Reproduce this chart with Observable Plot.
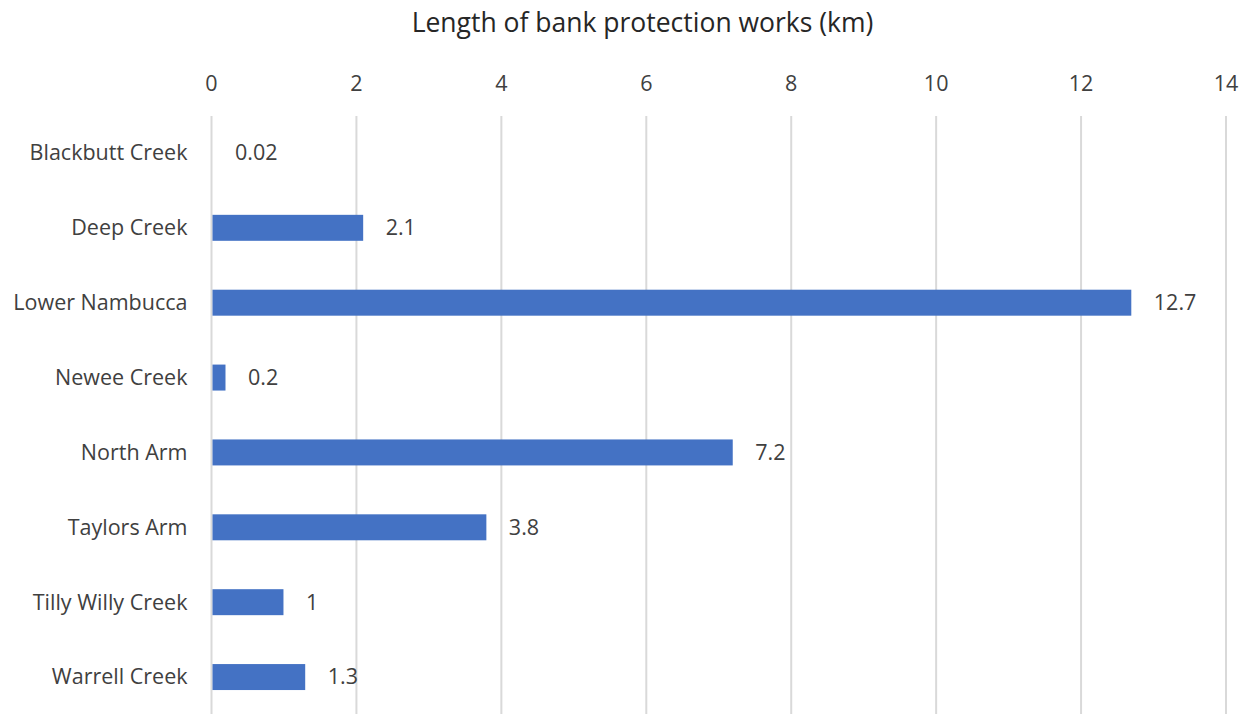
<!DOCTYPE html>
<html>
<head>
<meta charset="utf-8">
<script src="https://cdn.jsdelivr.net/npm/d3@7"></script>
<script src="https://cdn.jsdelivr.net/npm/@observablehq/plot@0.6"></script>
<style>
  html, body { margin: 0; padding: 0; background: #fff; }
  #title {
    width: 1255px; height: 44px; box-sizing: border-box;
    padding-left: 30px; padding-top: 4px;
    text-align: center; line-height: 36px;
    font-family: "Open Sans", sans-serif; font-size: 26.5px; color: #262626;
  }
  #chart svg { display: block; }
</style>
</head>
<body>
<div id="title">Length of bank protection works (km)</div>
<div id="chart"></div>
<script>
// River reaches and the length of bank protection works along each (km)
const reaches = [
  "Blackbutt Creek", "Deep Creek", "Lower Nambucca", "Newee Creek",
  "North Arm", "Taylors Arm", "Tilly Willy Creek", "Warrell Creek"
];
const lengths = [0.02, 2.1, 12.7, 0.2, 7.2, 3.8, 1, 1.3];
const xTicks = [0, 2, 4, 6, 8, 10, 12, 14];

const rows = reaches.map((name, i) => ({name, km: lengths[i]}));

const chart = Plot.plot({
  width: 1255,
  height: 670,
  marginTop: 72,
  marginBottom: 0,
  marginLeft: 211,
  marginRight: 29.5,
  style: {fontFamily: "'Open Sans', sans-serif", fontSize: "21.5px", color: "#404040"},
  x: {domain: [0, 14], axis: null},
  y: {domain: reaches, paddingInner: 0.653, paddingOuter: 0.32, round: false, axis: null},
  marks: [
    Plot.gridX(xTicks, {stroke: "#d9d9d9", strokeOpacity: 1, strokeWidth: 2}),
    Plot.axisX(xTicks, {anchor: "top", tickSize: 0, tickPadding: 26, label: null, fill: "#404040"}),
    Plot.axisY({tickSize: 0, tickPadding: 24, label: null, fill: "#404040"}),
    Plot.barX(rows, {x: "km", y: "name", fill: "#4472C4", insetLeft: 1.5}),
    Plot.text(rows, {
      x: "km", y: "name", text: d => String(d.km),
      textAnchor: "start", dx: 22, fill: "#404040"
    })
  ]
});

document.getElementById("chart").appendChild(chart);
</script>
</body>
</html>
